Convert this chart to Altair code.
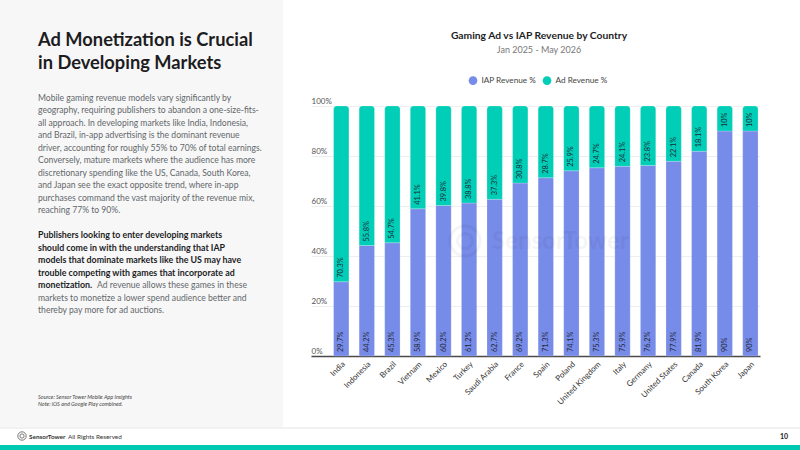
import altair as alt
import pandas as pd

# ---- data -------------------------------------------------------------
countries = ["India", "Indonesia", "Brazil", "Vietnam", "Mexico", "Turkey",
             "Saudi Arabia", "France", "Spain", "Poland", "United Kingdom",
             "Italy", "Germany", "United States", "Canada", "South Korea", "Japan"]
iap_share = [29.7, 44.2, 45.3, 58.9, 60.2, 61.2, 62.7, 69.2, 71.3, 74.1,
             75.3, 75.9, 76.2, 77.9, 81.9, 90, 90]
ad_share = [70.3, 55.8, 54.7, 41.1, 39.8, 38.8, 37.3, 30.8, 28.7, 25.9,
            24.7, 24.1, 23.8, 22.1, 18.1, 10, 10]
series_names = ["IAP Revenue %", "Ad Revenue %"]
series_colors = ["#778be8", "#00ceb6"]
y_ticks = [0, 20, 40, 60, 80, 100]

headline = ["Ad Monetization is Crucial", "in Developing Markets"]
body_lines = [
    "Mobile gaming revenue models vary significantly by",
    "geography, requiring publishers to abandon a one-size-fits-",
    "all approach. In developing markets like India, Indonesia,",
    "and Brazil, in-app advertising is the dominant revenue",
    "driver, accounting for roughly 55% to 70% of total earnings.",
    "Conversely, mature markets where the audience has more",
    "discretionary spending like the US, Canada, South Korea,",
    "and Japan see the exact opposite trend, where in-app",
    "purchases command the vast majority of the revenue mix,",
    "reaching 77% to 90%.",
]
bold_lines = [
    "Publishers looking to enter developing markets",
    "should come in with the understanding that IAP",
    "models that dominate markets like the US may have",
    "trouble competing with games that incorporate ad",
    "monetization.",
]
tail_first = "Ad revenue allows these games in these"
tail_lines = [
    "markets to monetize a lower spend audience better and",
    "thereby pay more for ad auctions.",
]
source_lines = ["Source: Sensor Tower Mobile App Insights",
                "Note: iOS and Google Play combined."]
chart_title = "Gaming Ad vs IAP Revenue by Country"
chart_subtitle = "Jan 2025 - May 2026"

# ---- tables -----------------------------------------------------------
rows = []
for c, iap, ad in zip(countries, iap_share, ad_share):
    rows.append({"country": c, "series": series_names[0], "lo": 0.0, "hi": iap,
                 "label": f"{iap:g}%"})
    rows.append({"country": c, "series": series_names[1], "lo": iap, "hi": iap + ad,
                 "label": f"{ad:g}%"})
bars = pd.DataFrame(rows)
one = pd.DataFrame({"k": [0]})

# plot-area origin inside the 800x450 page
OX, OY = 311, 106
W, H = 449, 250

FONT = "Lato"
INK = "#1d1d1f"
BODY = "#63676b"


def note(text, x, y, size=8.6, color=BODY, weight="normal", align="left",
         baseline="middle", **kw):
    return alt.Chart(one).mark_text(
        text=text, fontSize=size, color=color, fontWeight=weight, font=FONT,
        align=align, baseline=baseline, **kw
    ).encode(x=alt.value(x - OX), y=alt.value(y - OY))


def block(x0, x1, y0, y1, color):
    return alt.Chart(one).mark_rect(color=color).encode(
        x=alt.value(x0 - OX), x2=alt.value(x1 - OX),
        y=alt.value(y0 - OY), y2=alt.value(y1 - OY))


# ---- page furniture ---------------------------------------------------
side_panel = block(0, 283, 0, 427, "#f7f7f7")
footer_rule = alt.Chart(one).mark_rule(color="#e4e4e4", strokeWidth=1).encode(
    x=alt.value(-OX), x2=alt.value(800 - OX), y=alt.value(428 - OY))
footer_band = block(0, 800, 445, 450, "#00c9b2")

# ---- scales -------------------------------------------------------------
x_enc = alt.X(
    "country:N", sort=countries,
    scale=alt.Scale(paddingInner=0.4, paddingOuter=0.48, align=0.92),
    axis=alt.Axis(title=None, labelAngle=-45, labelFontSize=8, labelColor="#333",
                  labelFont=FONT, ticks=False, labelPadding=4,
                  domainColor="#4a4a4a", domainWidth=1.5),
)
y_scale = alt.Scale(domain=[0, 100], nice=False)
color_enc = alt.Color(
    "series:N",
    scale=alt.Scale(domain=series_names, range=series_colors),
    legend=alt.Legend(orient="none", legendX=157.5, legendY=-30, direction="horizontal",
                      title=None, symbolType="circle", symbolSize=75,
                      symbolStrokeWidth=0, labelFontSize=8.2, labelColor="#444",
                      labelFont=FONT, columnPadding=6, labelOffset=4),
)

base = alt.Chart(bars).encode(x=x_enc, color=color_enc)

iap_bars = base.transform_filter(alt.datum.series == series_names[0]).mark_bar(
    stroke="#ffffff", strokeWidth=0.6, strokeOpacity=0.35
).encode(
    y=alt.Y("lo:Q", scale=y_scale,
            axis=alt.Axis(title=None, values=y_ticks, labelExpr="datum.value + '%'",
                          labelAlign="left", labelPadding=0, tickSize=0, ticks=False,
                          domain=False, labelBaseline="alphabetic", labelOffset=-2.5,
                          labelFontSize=8, labelColor="#555", labelFont=FONT,
                          gridColor="#eeeeee", gridWidth=1)),
    y2="hi:Q",
)
ad_bars = base.transform_filter(alt.datum.series == series_names[1]).mark_bar(
    cornerRadiusTopLeft=3, cornerRadiusTopRight=3,
    stroke="#ffffff", strokeWidth=0.6, strokeOpacity=0.35
).encode(y=alt.Y("lo:Q", scale=y_scale), y2="hi:Q")

bar_labels = alt.Chart(bars).mark_text(
    angle=270, align="left", baseline="middle", dx=4, fontSize=7.4,
    color="#1f2a36", font=FONT
).encode(x=alt.X("country:N", sort=countries), y=alt.Y("lo:Q", scale=y_scale),
         text="label:N")

# faint brand watermark across the plot
watermark = alt.layer(
    alt.Chart(one).mark_point(shape="circle", size=900, filled=False, strokeWidth=3,
                              color="#000", opacity=0.035).encode(
        x=alt.value(465 - OX), y=alt.value(241 - OY)),
    alt.Chart(one).mark_point(shape="circle", size=220, filled=False, strokeWidth=3,
                              color="#000", opacity=0.035).encode(
        x=alt.value(465 - OX), y=alt.value(241 - OY)),
    note("SensorTower", 492, 242, size=24, color="#000", weight="bold", opacity=0.035),
)

# ---- text ---------------------------------------------------------------
texts = [
    note(headline, 38, 40.5, size=18.3, color=INK, weight="bold", lineHeight=23),
    note(body_lines, 38, 97.7, lineHeight=12.5),
    note(bold_lines, 38, 235, size=8.85, color=INK, weight="bold", lineHeight=12.5),
    note(tail_first, 97, 285),
    note(tail_lines, 38, 297.5, lineHeight=12.5),
    note(source_lines, 38, 396.5, size=5.5, color="#444", fontStyle="italic",
         lineHeight=7.5),
    note(chart_title, 539, 36, size=10.3, color=INK, weight="bold", align="center"),
    note(chart_subtitle, 539, 50, size=9, color="#777", align="center"),
    # footer
    alt.Chart(one).mark_point(shape="circle", size=70, filled=False, strokeWidth=1,
                              color="#444").encode(x=alt.value(22 - OX), y=alt.value(436 - OY)),
    alt.Chart(one).mark_point(shape="circle", size=18, filled=False, strokeWidth=1,
                              color="#444").encode(x=alt.value(22 - OX), y=alt.value(436 - OY)),
    note("SensorTower", 29, 436.5, size=6.4, color="#333", weight="bold"),
    note("All Rights Reserved", 68, 436.5, size=6.4, color="#333"),
    note("10", 788, 436.5, size=7, color="#222", weight="bold", align="right"),
]

chart = alt.layer(
    side_panel, footer_rule, footer_band,
    iap_bars, ad_bars, watermark, bar_labels, *texts
).properties(
    width=W, height=H,
    autosize=alt.AutoSizeParams(type="none"),
    padding={"left": OX, "top": OY, "right": 800 - OX - W, "bottom": 450 - OY - H},
    background="#ffffff",
).configure_view(stroke=None)

chart.save("out.html", embed_options={"renderer": "svg", "actions": False})
